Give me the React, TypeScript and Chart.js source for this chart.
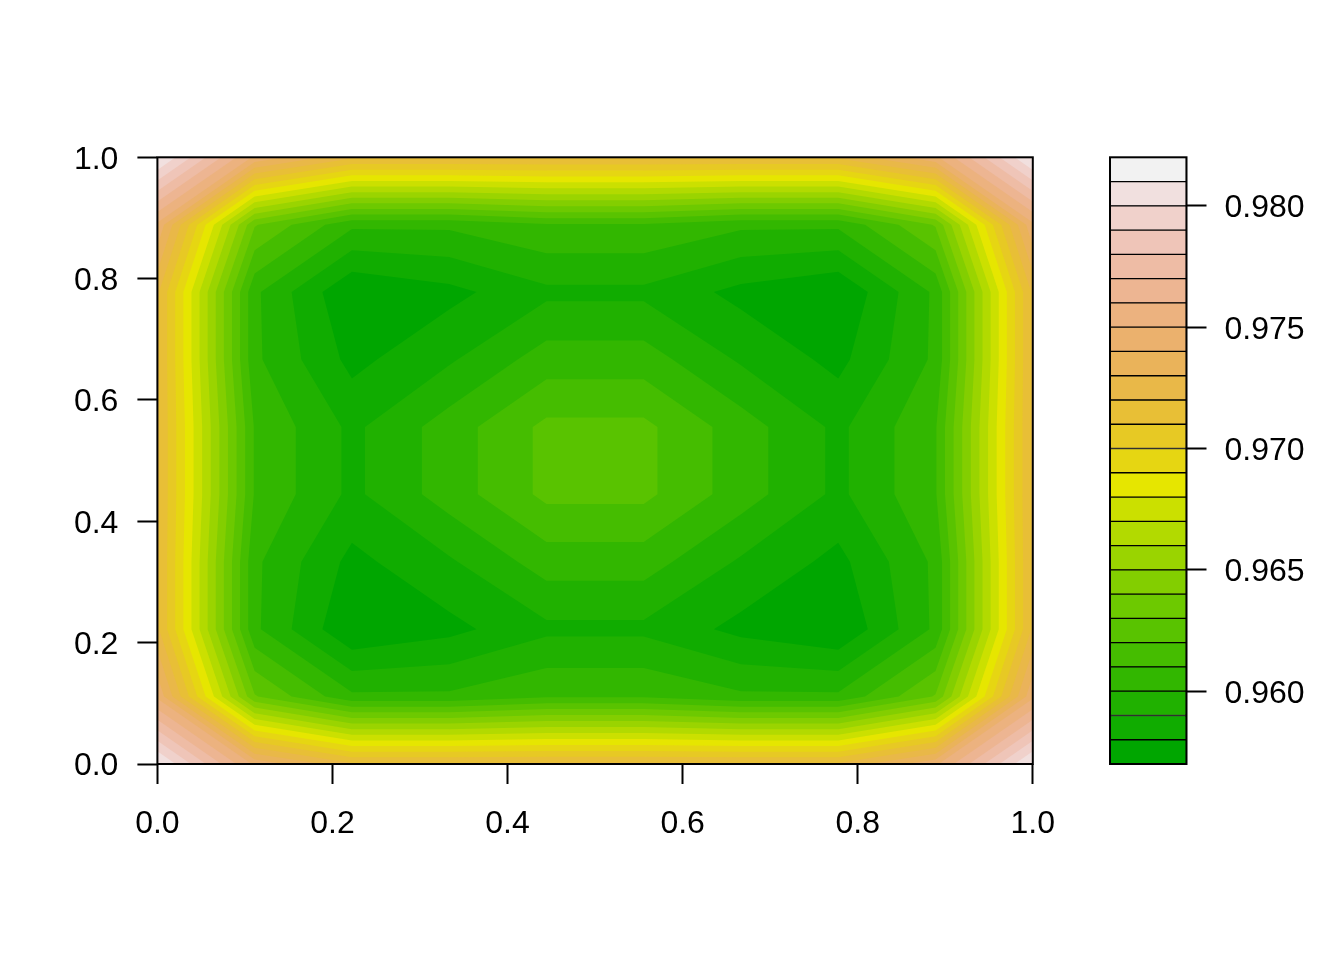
// App.tsx - filled contour of a 10x10 surface with its colour key
import { useEffect, useRef } from 'react';
import { Chart, registerables } from 'chart.js';

Chart.register(...registerables);

const gridX = [0, 1 / 9, 2 / 9, 3 / 9, 4 / 9, 5 / 9, 6 / 9, 7 / 9, 8 / 9, 1];
const gridY = [0, 1 / 9, 2 / 9, 3 / 9, 4 / 9, 5 / 9, 6 / 9, 7 / 9, 8 / 9, 1];

// surface values, one row per gridY entry
const row0 = [0.9812, 0.9748, 0.9722, 0.9722, 0.9722, 0.9722, 0.9722, 0.9722, 0.9748, 0.9812];
const row1 = [0.9748, 0.9631, 0.9602, 0.9602, 0.9609, 0.9609, 0.9602, 0.9602, 0.9631, 0.9748];
const row2 = [0.9722, 0.9602, 0.95704, 0.9577, 0.95877, 0.95877, 0.9577, 0.95704, 0.9602, 0.9722];
const row3 = [0.9722, 0.9602, 0.9577, 0.95886, 0.96048, 0.96048, 0.95886, 0.9577, 0.9602, 0.9722];
const row4 = [0.9722, 0.9609, 0.95877, 0.96048, 0.96225, 0.96225, 0.96048, 0.95877, 0.9609, 0.9722];
const row5 = [0.9722, 0.9609, 0.95877, 0.96048, 0.96225, 0.96225, 0.96048, 0.95877, 0.9609, 0.9722];
const row6 = [0.9722, 0.9602, 0.9577, 0.95886, 0.96048, 0.96048, 0.95886, 0.9577, 0.9602, 0.9722];
const row7 = [0.9722, 0.9602, 0.95704, 0.9577, 0.95877, 0.95877, 0.9577, 0.95704, 0.9602, 0.9722];
const row8 = [0.9748, 0.9631, 0.9602, 0.9602, 0.9609, 0.9609, 0.9602, 0.9602, 0.9631, 0.9748];
const row9 = [0.9812, 0.9748, 0.9722, 0.9722, 0.9722, 0.9722, 0.9722, 0.9722, 0.9748, 0.9812];
const surface = [row0, row1, row2, row3, row4, row5, row6, row7, row8, row9];

const levels = [
  0.957, 0.958, 0.959, 0.96, 0.961, 0.962, 0.963, 0.964, 0.965, 0.966, 0.967, 0.968, 0.969,
  0.97, 0.971, 0.972, 0.973, 0.974, 0.975, 0.976, 0.977, 0.978, 0.979, 0.98, 0.981, 0.982,
];
const axisTicks = [0, 0.2, 0.4, 0.6, 0.8, 1];
const keyTicks = [0.96, 0.965, 0.97, 0.975, 0.98];

const FONT = { family: '"Liberation Sans", Arial, sans-serif', size: 32 };

function hsv(h: number, s: number, v: number) {
  const i = Math.floor(h * 6) % 6;
  const f = h * 6 - Math.floor(h * 6);
  const p = v * (1 - s);
  const q = v * (1 - f * s);
  const t = v * (1 - (1 - f) * s);
  const rgb = [[v, t, p], [q, v, p], [p, v, t], [p, q, v], [t, p, v], [v, p, q]][i];
  return `rgb(${rgb.map(c => Math.round(c * 255)).join(',')})`;
}

// same ramp as R's terrain.colors(25)
function terrainColors(n: number) {
  const k = Math.floor(n / 2);
  const out: string[] = [];
  for (let i = 0; i < k; i++) {
    const a = i / (k - 1);
    out.push(hsv(1 / 3 - a / 6, 1, 0.65 + a * 0.25));
  }
  for (let i = 1; i <= n - k; i++) {
    const a = i / (n - k);
    out.push(hsv(1 / 6 - a / 6, 1 - a, 0.9 + a * 0.05));
  }
  return out;
}
const bandColors = terrainColors(levels.length - 1);

// part of one grid cell where the surface is at or above the level
function clipCell(corners: number[][], level: number) {
  const out: number[][] = [];
  corners.forEach((p, i) => {
    const q = corners[(i + 1) % corners.length];
    if (p[2] >= level) out.push(p);
    if ((p[2] >= level) !== (q[2] >= level)) {
      const f = (level - p[2]) / (q[2] - p[2]);
      out.push([p[0] + f * (q[0] - p[0]), p[1] + f * (q[1] - p[1]), level]);
    }
  });
  return out;
}

const contourPlugin = {
  id: 'contourBands',
  beforeDatasetsDraw(chart: any) {
    const { ctx, scales } = chart;
    ctx.save();
    // low to high, each band painted over the one before
    bandColors.forEach((color, b) => {
      ctx.beginPath();
      for (let r = 0; r < gridY.length - 1; r++) {
        for (let c = 0; c < gridX.length - 1; c++) {
          const poly = clipCell(
            [
              [gridX[c], gridY[r], surface[r][c]],
              [gridX[c + 1], gridY[r], surface[r][c + 1]],
              [gridX[c + 1], gridY[r + 1], surface[r + 1][c + 1]],
              [gridX[c], gridY[r + 1], surface[r + 1][c]],
            ],
            levels[b],
          );
          poly.forEach((p, i) => {
            const px = scales.x.getPixelForValue(p[0]);
            const py = scales.y.getPixelForValue(p[1]);
            if (i === 0) ctx.moveTo(px, py);
            else ctx.lineTo(px, py);
          });
          if (poly.length) ctx.closePath();
        }
      }
      ctx.fillStyle = color;
      ctx.fill();
    });
    ctx.restore();
  },
};

const boxPlugin = {
  id: 'plotBox',
  afterDraw(chart: any) {
    const { ctx, chartArea: a } = chart;
    ctx.save();
    ctx.strokeStyle = '#000';
    ctx.lineWidth = 2;
    ctx.strokeRect(a.left, a.top, a.right - a.left, a.bottom - a.top);
    ctx.restore();
  },
};

export default function App() {
  const plotRef = useRef<HTMLCanvasElement>(null);
  const keyRef = useRef<HTMLCanvasElement>(null);

  useEffect(() => {
    const tickStyle = {
      drawOnChartArea: false,
      drawTicks: true,
      tickLength: 20,
      tickColor: '#000',
      tickWidth: 2,
    };
    const plot = new Chart(plotRef.current!, {
      type: 'scatter',
      data: { datasets: [{ data: [], pointRadius: 0 }] },
      plugins: [contourPlugin, boxPlugin],
      options: {
        animation: false,
        responsive: false,
        devicePixelRatio: 1,
        layout: { padding: { top: 157.3, right: 311.2, left: 0, bottom: 0 } },
        plugins: { legend: { display: false }, tooltip: { enabled: false } },
        scales: {
          x: {
            type: 'linear',
            min: 0,
            max: 1,
            grid: tickStyle,
            border: { display: false },
            afterBuildTicks: (s: any) => { s.ticks = axisTicks.map(value => ({ value })); },
            afterFit: (s: any) => { s.height = 196; },
            ticks: {
              color: '#000',
              font: FONT,
              padding: 21,
              maxRotation: 0,
              autoSkip: false,
              callback: (v: any) => Number(v).toFixed(1),
            },
          },
          y: {
            type: 'linear',
            min: 0,
            max: 1,
            grid: tickStyle,
            border: { display: false },
            afterBuildTicks: (s: any) => { s.ticks = axisTicks.map(value => ({ value })); },
            afterFit: (s: any) => { s.width = 157.4; },
            ticks: {
              color: '#000',
              font: FONT,
              padding: 19,
              labelOffset: 2.5,
              autoSkip: false,
              callback: (v: any) => Number(v).toFixed(1),
            },
          },
        },
      },
    } as any);

    const key = new Chart(keyRef.current!, {
      type: 'bar',
      data: {
        labels: ['key'],
        datasets: bandColors.map((color, b) => ({
          data: [[levels[b], levels[b + 1]]],
          backgroundColor: color,
          borderColor: '#000',
          borderWidth: 1,
          borderSkipped: false,
          barPercentage: 1,
          categoryPercentage: 1,
        })),
      },
      plugins: [boxPlugin],
      options: {
        animation: false,
        responsive: false,
        devicePixelRatio: 1,
        layout: { padding: { top: 157.3, right: 0, left: 1110, bottom: 196 } },
        plugins: { legend: { display: false }, tooltip: { enabled: false } },
        scales: {
          x: { display: false, stacked: true },
          y: {
            position: 'right',
            min: levels[0],
            max: levels[levels.length - 1],
            grid: tickStyle,
            border: { display: false },
            afterBuildTicks: (s: any) => { s.ticks = keyTicks.map(value => ({ value })); },
            afterFit: (s: any) => { s.width = 157.5; },
            ticks: {
              color: '#000',
              font: FONT,
              padding: 18,
              labelOffset: 2.5,
              autoSkip: false,
              callback: (v: any) => Number(v).toFixed(3),
            },
          },
        },
      },
    } as any);

    return () => {
      plot.destroy();
      key.destroy();
    };
  }, []);

  const layer = { position: 'absolute', left: 0, top: 0, display: 'block' } as const;
  return (
    <div style={{ position: 'fixed', left: 0, top: 0, width: 1344, height: 960, background: '#fff' }}>
      <canvas ref={plotRef} width={1344} height={960} style={layer} />
      <canvas ref={keyRef} width={1344} height={960} style={layer} />
    </div>
  );
}
